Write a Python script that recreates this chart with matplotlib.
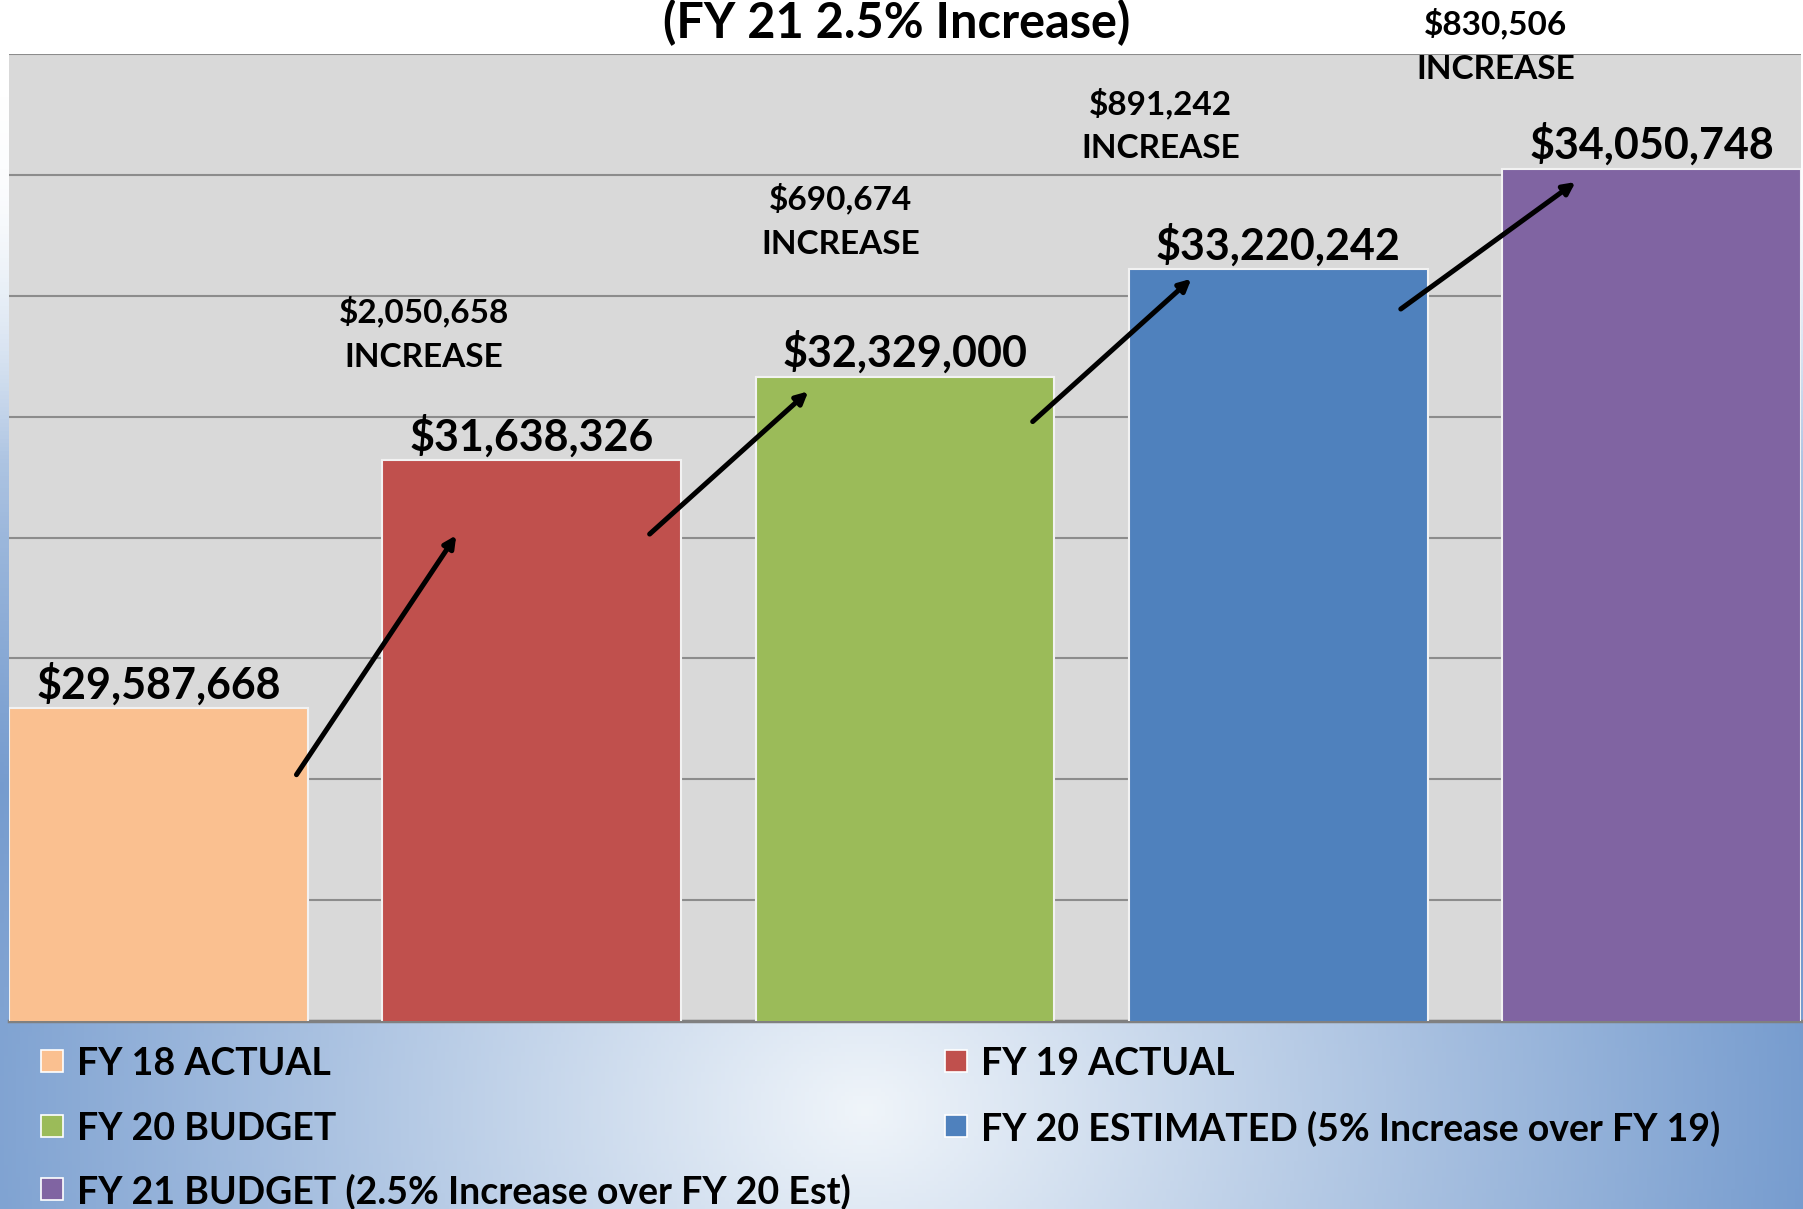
import matplotlib.pyplot as plt
import numpy as np
from matplotlib.patches import Rectangle

# Данные графика
categories = ["FY 18 ACTUAL", "FY 19 ACTUAL", "FY 20 BUDGET",
              "FY 20 ESTIMATED (5% Increase over FY 19)",
              "FY 21 BUDGET (2.5% Increase over FY 20 Est)"]
values = [29587668, 31638326, 32329000, 33220242, 34050748]
increases = [2050658, 690674, 891242, 830506]
colors = ["#FAC090", "#C0504D", "#9BBB59", "#4F81BD", "#8064A2"]
title = "(FY 21 2.5% Increase)"

# Оформление
FONT = ["Lato", "DejaVu Sans"]
Y_MIN, Y_MAX, Y_STEP = 27_000_000, 35_000_000, 1_000_000
BAR_WIDTH = 0.8
# смещения подписей прироста: x от середины между столбцами, y от следующего столбца
INC_DX = [0.212, 0.327, 0.184, 0.083]
INC_DY = [1.05e6, 1.29e6, 1.19e6, 1.02e6]
# смещения стрелок
ARR_X0 = [0.37, 0.316, 0.342, 0.328]
ARR_Y0 = [-0.55e6, -0.61e6, -0.37e6, -0.33e6]
ARR_X1 = [-0.202, -0.259, -0.233, -0.204]
ARR_Y1 = [-0.62e6, -0.12e6, -0.08e6, -0.11e6]

W, H = 1803, 1209
fig = plt.figure(figsize=(W / 100, H / 100), dpi=100)

# Градиентный фон
bg_ax = fig.add_axes([0, 0, 1, 1], zorder=-10)
yy, xx = np.mgrid[0:1:300j, 0:1:450j]   # yy: 0 сверху
r = np.sqrt(((xx - 0.48) / 0.62) ** 2 + ((yy - 0.92) / 0.75) ** 2)
fade = np.clip((yy - 0.15) / 0.5, 0, 1)
t = np.clip(r, 0, 1) * fade
c_light = np.array([0.94, 0.96, 0.98])
c_dark = np.array([0.38, 0.55, 0.78])
img = c_light[None, None, :] * (1 - t[..., None]) + c_dark[None, None, :] * t[..., None]
top_white = np.clip((yy - 0.08) / 0.3, 0, 1)[..., None]
img = np.ones(3) * (1 - top_white) + img * top_white
bg_ax.imshow(img, aspect="auto", extent=[0, 1, 0, 1], origin="upper")
bg_ax.set_axis_off()

ax = fig.add_axes([9 / W, 1 - 1021 / H, 1792 / W, (1021 - 54) / H])
ax.set_facecolor("#D9D9D9")

x = np.arange(len(values))
ax.bar(x, values, width=BAR_WIDTH, color=colors, edgecolor="#F2F2F2",
       linewidth=1.5, zorder=3)

ax.set_xlim(-BAR_WIDTH / 2, len(values) - 1 + BAR_WIDTH / 2)
ax.set_ylim(Y_MIN, Y_MAX)
ax.set_yticks(np.arange(Y_MIN, Y_MAX + 1, Y_STEP))
ax.yaxis.grid(True, color="#8C8C8C", linewidth=1.5, zorder=1)
ax.set_axisbelow(True)
ax.set_xticks([])
ax.tick_params(axis="y", length=0, labelleft=False)
for side in ["left", "right", "top"]:
    ax.spines[side].set_visible(False)
ax.spines["bottom"].set_color("#808080")
ax.spines["bottom"].set_linewidth(2.5)

# Подписи значений
for xi, v in zip(x, values):
    ax.annotate(f"${v:,.0f}", (xi, v), xytext=(0, 7), textcoords="offset points",
                ha="center", va="baseline", fontsize=31, fontweight="bold",
                family=FONT, zorder=5)

# Подписи прироста и стрелки
for i, inc in enumerate(increases):
    ax.text(i + 0.5 + INC_DX[i], values[i + 1] + INC_DY[i],
            f"${inc:,.0f}\nINCREASE", ha="center", va="center",
            fontsize=24, fontweight="bold", family=FONT, linespacing=1.65,
            clip_on=False, zorder=5)
    ax.annotate("", xy=(i + 1 + ARR_X1[i], values[i + 1] + ARR_Y1[i]),
                xytext=(i + ARR_X0[i], values[i] + ARR_Y0[i]),
                arrowprops=dict(arrowstyle="-|>,head_length=0.7,head_width=0.35",
                                color="black", lw=3.6, shrinkA=0, shrinkB=0),
                zorder=6)

# Заголовок (в оригинале почти обрезан сверху)
fig.text(0.4975, 1 - 38 / H, title, ha="center", va="baseline",
         fontsize=35, fontweight="bold", family=FONT)

# Легенда вручную
legend_slots = [(41, 1061), (945, 1061), (41, 1126), (945, 1126), (41, 1189)]
for (lx, ly), name, col in zip(legend_slots, categories, colors):
    fig.patches.append(Rectangle(((lx) / W, 1 - (ly + 11) / H), 22 / W, 22 / H,
                                 transform=fig.transFigure, facecolor=col,
                                 edgecolor="white", linewidth=1.2))
    fig.text((lx + 36) / W, 1 - ly / H, name, ha="left", va="center_baseline",
             fontsize=27, fontweight="bold", family=FONT)

fig.savefig("out.png", dpi=100)
